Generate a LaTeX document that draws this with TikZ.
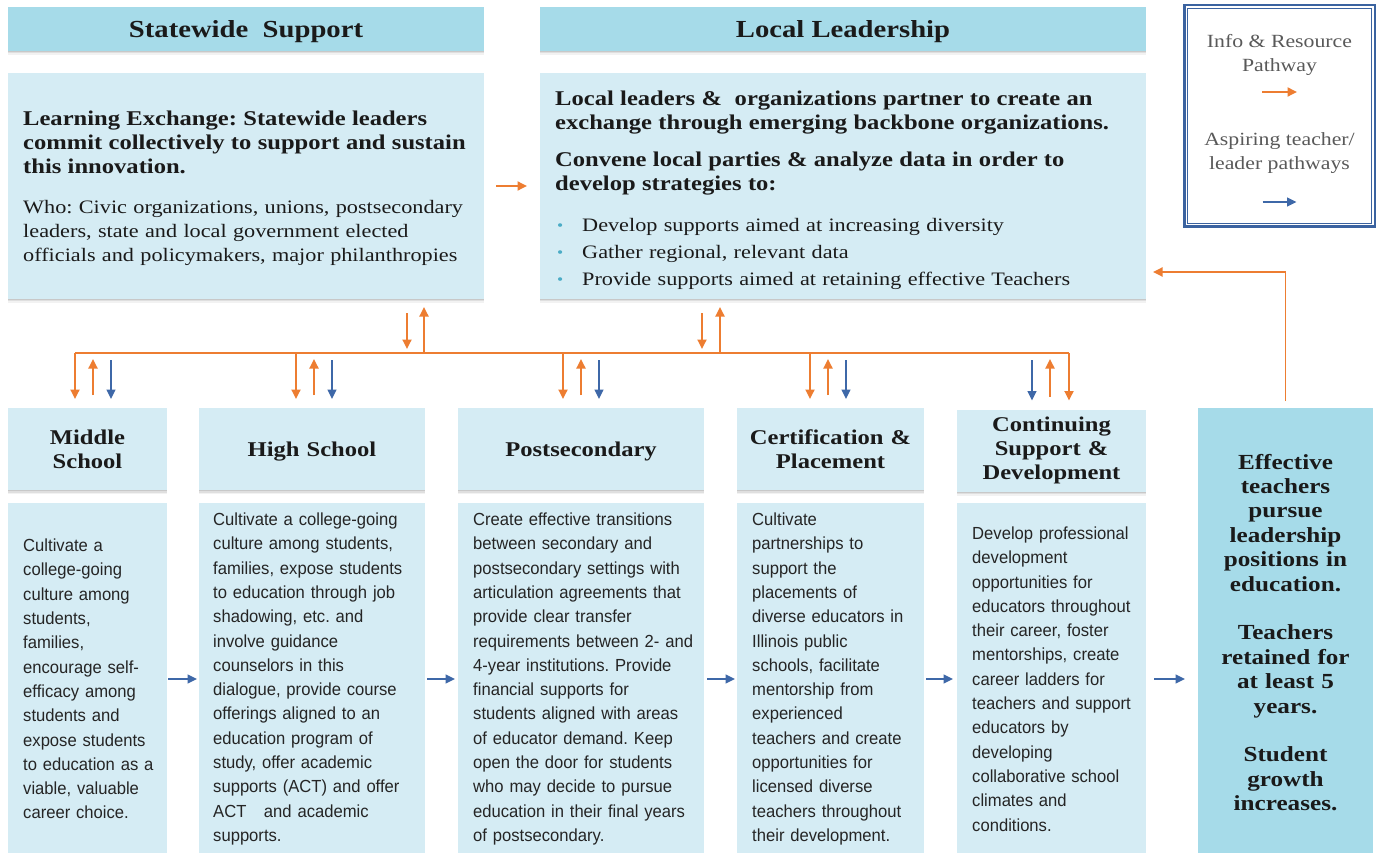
\documentclass[tikz,border=0pt]{standalone}
\usepackage{fontspec}
\setmainfont{Liberation Serif}[FakeStretch=1.17]
\newfontfamily\bodysans{Liberation Sans}[FakeStretch=0.95]
\usetikzlibrary{arrows.meta,shadows}
\frenchspacing

\definecolor{hdrfill}{HTML}{A6DBE9}
\definecolor{boxfill}{HTML}{D5ECF4}
\definecolor{flowor}{HTML}{ED7D31}
\definecolor{flowbl}{HTML}{3E68A8}
\definecolor{legline}{HTML}{3B63A0}
\definecolor{bulletc}{HTML}{4BACC6}
\definecolor{legtext}{HTML}{595959}
\definecolor{ink}{HTML}{1A1A1A}

% teal bullet with its indent
\newcommand{\lbul}{\hspace*{2pt}\makebox[25pt][l]{\textcolor{bulletc}{\raisebox{0.5pt}{\fontsize{15}{15}\selectfont\textbullet}}}}
% single line title, its capitals centred on the box
\newcommand{\oneline}[2]{\raisebox{-#1}[0pt][0pt]{#2}}

\begin{document}
\begin{tikzpicture}[x=1pt,y=-1pt,
  panel/.style={draw=none, inner sep=0pt, outer sep=0pt,
    drop shadow={shadow xshift=0pt, shadow yshift=-4pt, opacity=0.05, fill=black},
    drop shadow={shadow xshift=0pt, shadow yshift=-2.5pt, opacity=0.08, fill=black},
    drop shadow={shadow xshift=0pt, shadow yshift=-1.2pt, opacity=0.10, fill=black}},
  flat/.style={draw=none, inner sep=0pt, outer sep=0pt, fill=boxfill},
  hdr/.style={panel, fill=hdrfill, text=ink, align=center,
    font=\fontsize{24.5}{28}\selectfont\bfseries},
  stage/.style={panel, fill=boxfill, text=ink, align=center, inner xsep=4pt,
    font=\fontsize{21}{24}\selectfont\bfseries},
  serifbody/.style={anchor=west, inner sep=0pt, text width=700pt, align=left, text=ink,
    font=\fontsize{19}{24}\selectfont},
  sansbody/.style={anchor=west, inner sep=0pt, text width=300pt, align=left, text=ink!95,
    font=\bodysans\fontsize{17.5}{24.3}\selectfont},
  legtxt/.style={inner sep=0pt, align=center, text=legtext,
    font=\fontsize{18.6}{24}\selectfont},
  oline/.style={draw=flowor, line width=1.8pt},
  oarr/.style={oline, -{Triangle[length=9.5pt,width=9pt]}},
  barr/.style={draw=flowbl, line width=1.6pt, -{Triangle[length=9.5pt,width=9pt]}}
]
\useasboundingbox (0,0) rectangle (1377,853);
\fill[white] (0,0) rectangle (1377,853);

% ---- top level: statewide and local
\node[hdr, minimum width=476, minimum height=44] (sw-h) at (246,29) {\oneline{9pt}{Statewide~ Support}};
\node[hdr, minimum width=606, minimum height=44] (ll-h) at (843,29) {\oneline{9pt}{Local Leadership}};

\node[panel, fill=boxfill, minimum width=476, minimum height=226] (swb) at (246,186) {};
\node[panel, fill=boxfill, minimum width=606, minimum height=226] (llb) at (843,186) {};

\node[serifbody] (sw-t) at ([xshift=15pt,yshift=-2.5pt]swb.west) {%
{\bfseries\fontsize{21}{24.5}\selectfont Learning Exchange: Statewide leaders\\commit collectively to support and sustain\\this innovation.}\\[16pt]
Who: Civic organizations, unions, postsecondary\\leaders, state and local government elected\\officials and policymakers, major philanthropies};

\node[serifbody] (ll-t) at ([xshift=15pt,yshift=-4pt]llb.west) {%
{\bfseries\fontsize{21}{24}\selectfont Local leaders \&~ organizations partner to create an\\exchange through emerging backbone organizations.}\\[13pt]
{\bfseries\fontsize{21}{24}\selectfont Convene local parties \& analyze data in order to\\develop strategies to:}\\[17pt]
\lbul Develop supports aimed at increasing diversity\\[3pt]
\lbul Gather regional, relevant data\\[3pt]
\lbul Provide supports aimed at retaining effective Teachers};

% ---- legend
\node[draw=legline, line width=2.5pt, fill=white, minimum width=190.5, minimum height=221.5, inner sep=0pt] (legend) at (1279.5,116) {};
\draw[legline, line width=0.8pt] ([xshift=4.5pt,yshift=-4.5pt]legend.north west) rectangle ([xshift=-4.5pt,yshift=4.5pt]legend.south east);
\node[legtxt] (leg-info) at (1279.5,55) {Info \& Resource\\Pathway};
\node[legtxt] (leg-asp) at (1279.5,153.5) {Aspiring teacher/\\leader pathways};
\draw[oarr] ([xshift=-17.5pt,yshift=24pt]legend.center) -- ([xshift=17.5pt,yshift=24pt]legend.center);
\draw[barr] ([xshift=-17pt,yshift=-86pt]legend.center) -- ([xshift=17pt,yshift=-86pt]legend.center);

% ---- pathway stages
\node[stage, minimum width=159, minimum height=82, text width=151] (ms-h) at (87.5,449) {Middle\\School};
\node[stage, minimum width=226, minimum height=82, text width=218] (hs-h) at (312,449) {\oneline{7pt}{High School}};
\node[stage, minimum width=246, minimum height=82, text width=238] (ps-h) at (581,449) {\oneline{7pt}{Postsecondary}};
\node[stage, minimum width=187, minimum height=82, text width=179] (cp-h) at (830.5,449) {Certification \&\\Placement};
\node[stage, minimum width=189, minimum height=82, text width=181] (cs-h) at (1051.5,450.5) {Continuing\\Support \&\\Development};

\node[panel, fill=hdrfill, minimum width=175, minimum height=449, text width=167, inner xsep=4pt, align=center, text=ink,
  font=\fontsize{21.5}{24.4}\selectfont\bfseries] (eff) at (1285.5,632.5)
  {Effective\\teachers\\pursue\\leadership\\positions in\\education.\\[24.4pt]Teachers\\retained for\\at least 5\\years.\\[24.4pt]Student\\growth\\increases.};

\node[flat, minimum width=159, minimum height=352] (ms-b) at (87.5,679) {};
\node[flat, minimum width=226, minimum height=352] (hs-b) at (312,679) {};
\node[flat, minimum width=246, minimum height=352] (ps-b) at (581,679) {};
\node[flat, minimum width=187, minimum height=352] (cp-b) at (830.5,679) {};
\node[flat, minimum width=189, minimum height=352] (cs-b) at (1051.5,679) {};

\node[sansbody] (ms-t) at ([xshift=15pt]ms-b.west) {Cultivate a\\college-going\\culture among\\students,\\families,\\encourage self-\\efficacy among\\students and\\expose students\\to education as a\\viable, valuable\\career choice.};
\node[sansbody] (hs-t) at ([xshift=14pt]hs-b.west) {Cultivate a college-going\\culture among students,\\families, expose students\\to education through job\\shadowing, etc. and\\involve guidance\\counselors in this\\dialogue, provide course\\offerings aligned to an\\education program of\\study, offer academic\\supports (ACT) and offer\\ACT~~ and academic\\supports.};
\node[sansbody] (ps-t) at ([xshift=15pt]ps-b.west) {Create effective transitions\\between secondary and\\postsecondary settings with\\articulation agreements that\\provide clear transfer\\requirements between 2- and\\4-year institutions. Provide\\financial supports for\\students aligned with areas\\of educator demand. Keep\\open the door for students\\who may decide to pursue\\education in their final years\\of postsecondary.};
\node[sansbody] (cp-t) at ([xshift=15pt]cp-b.west) {Cultivate\\partnerships to\\support the\\placements of\\diverse educators in\\Illinois public\\schools, facilitate\\mentorship from\\experienced\\teachers and create\\opportunities for\\licensed diverse\\teachers throughout\\their development.};
\node[sansbody] (cs-t) at ([xshift=15pt]cs-b.west) {Develop professional\\development\\opportunities for\\educators throughout\\their career, foster\\mentorships, create\\career ladders for\\teachers and support\\educators by\\developing\\collaborative school\\climates and\\conditions.};

% ---- info & resource bus
\coordinate (busL) at (75,353);
\coordinate (busR) at (1069,353);
\draw[oline] (busL) -- (busR);

\draw[oarr] ([xshift=12pt]swb.east) -- ([xshift=-13pt]llb.west);

\draw[oarr] ([yshift=-14pt]407,0 |- swb.south) -- ([yshift=4pt]407,0 |- busL);
\draw[oarr] (424,0 |- busL) -- ([yshift=-8pt]424,0 |- swb.south);
\draw[oarr] ([yshift=-14pt]702,0 |- llb.south) -- ([yshift=4pt]702,0 |- busL);
\draw[oarr] (720,0 |- busL) -- ([yshift=-8pt]720,0 |- llb.south);

\foreach \bx/\od/\ou/\bd in {ms/75/93/111, hs/296/314/332, ps/563/581/599, cp/810/828/846, cs/1069/1050/1032} {
  \draw[oarr] (\od,0 |- busL) -- ([yshift=9pt]\od,0 |- \bx-h.north);
  \draw[oarr] ([yshift=13pt]\ou,0 |- \bx-h.north) -- ([yshift=-6pt]\ou,0 |- busL);
  \draw[barr] ([yshift=-7pt]\bd,0 |- busL) -- ([yshift=9pt]\bd,0 |- \bx-h.north);
}

% return path from outcomes to local leadership
\draw[oarr] ([yshift=7pt]eff.north) |- ([xshift=7pt,yshift=27pt]llb.south east);

% ---- aspiring teacher pathway
\draw[barr] ([xshift=1pt]ms-b.east) -- ([xshift=-2pt]hs-b.west);
\draw[barr] ([xshift=2pt]hs-b.east) -- ([xshift=-3pt]ps-b.west);
\draw[barr] ([xshift=3pt]ps-b.east) -- ([xshift=-2pt]cp-b.west);
\draw[barr] ([xshift=2pt]cp-b.east) -- ([xshift=-4pt]cs-b.west);
\draw[barr] ([xshift=8pt]cs-b.east) -- ([xshift=-13pt]cs-b.east -| eff.west);
\end{tikzpicture}
\end{document}
